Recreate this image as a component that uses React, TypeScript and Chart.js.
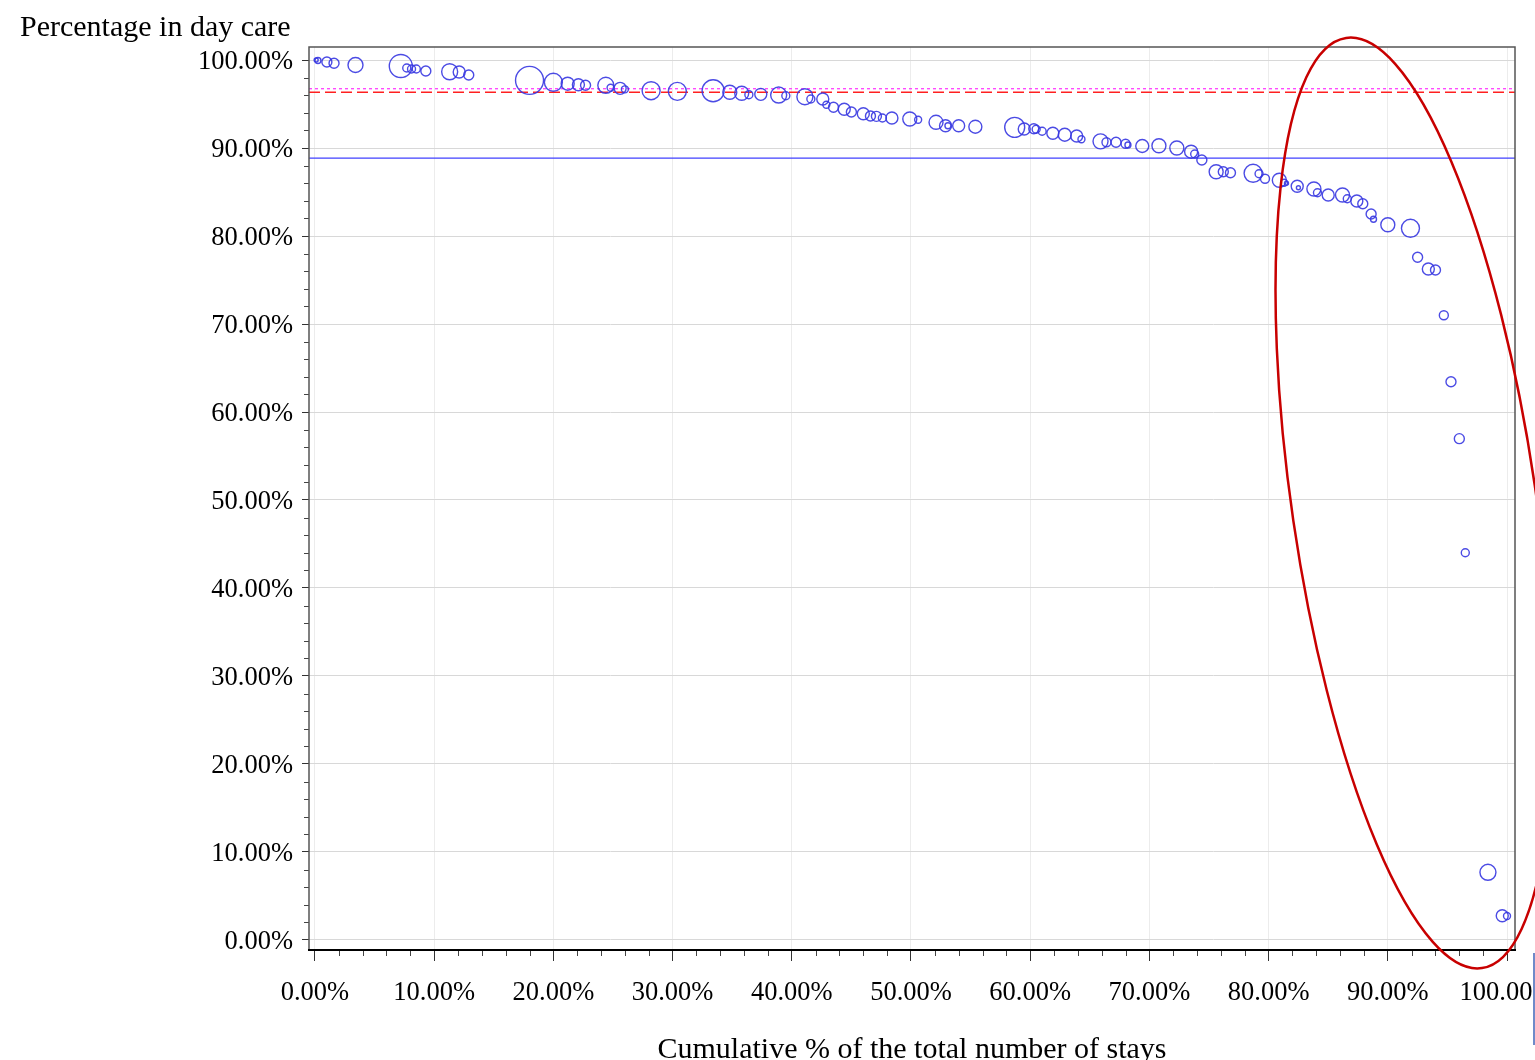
import React, { useEffect, useRef } from "react";
import { Chart, registerables } from "chart.js";

Chart.register(...registerables);

// Cumulative % of the total number of stays (x)
const cumulativeStays = [
  0.1, 0.25, 1.0, 1.6, 3.4, 7.2, 7.7, 8.1, 8.5, 9.3,
  11.3, 12.1, 12.9, 18.0, 20.0, 21.2, 22.1, 22.7, 24.4, 24.8,
  25.6, 26.0, 28.2, 30.4, 33.4, 34.8, 35.8, 36.4, 37.4, 38.9,
  39.5, 41.1, 41.6, 42.6, 42.9, 43.5, 44.4, 45.0, 46.0, 46.6,
  47.1, 47.6, 48.4, 49.9, 50.6, 52.1, 52.9, 53.1, 54.0, 55.4,
  58.7, 59.5, 60.3, 60.5, 61.0, 61.9, 62.9, 63.9, 64.3, 65.9,
  66.4, 67.2, 68.0, 68.2, 69.4, 70.8, 72.3, 73.5, 73.8, 74.4,
  75.6, 76.2, 76.8, 78.7, 79.2, 79.7, 80.9, 81.3, 81.5, 82.4,
  82.5, 83.8, 84.1, 85.0, 86.2, 86.6, 87.4, 87.9, 88.6, 88.8,
  90.0, 91.9, 92.5, 93.4, 94.0, 94.7, 95.3, 96.0, 96.5, 98.4,
  99.6, 100.0,
];

// Percentage in day care (y)
const dayCarePct = [
  100.0, 99.95, 99.77, 99.63, 99.43, 99.32, 99.09, 98.98, 98.98, 98.75,
  98.67, 98.64, 98.3, 97.69, 97.47, 97.31, 97.19, 97.13, 97.13, 96.85,
  96.78, 96.67, 96.51, 96.44, 96.51, 96.33, 96.22, 96.06, 96.1, 96.02,
  95.94, 95.83, 95.57, 95.57, 94.92, 94.63, 94.4, 94.09, 93.9, 93.64,
  93.6, 93.41, 93.41, 93.3, 93.22, 92.92, 92.53, 92.53, 92.53, 92.42,
  92.35, 92.16, 92.19, 92.13, 91.9, 91.67, 91.51, 91.36, 90.99, 90.76,
  90.65, 90.65, 90.49, 90.34, 90.23, 90.26, 90.0, 89.58, 89.32, 88.64,
  87.31, 87.31, 87.19, 87.13, 87.08, 86.51, 86.33, 86.06, 85.99, 85.65,
  85.49, 85.34, 84.92, 84.66, 84.66, 84.24, 83.98, 83.67, 82.5, 81.9,
  81.28, 80.88, 77.58, 76.25, 76.14, 70.99, 63.44, 56.97, 44.01, 7.69,
  2.76, 2.73,
];

// Bubble size (volume of stays)
const bubbleSize = [
  2, 3, 5, 5, 7.5, 11.5, 4, 4, 4, 5,
  8, 6, 5, 14, 9, 6.5, 6, 5, 8, 3.5,
  6, 3.5, 9, 9, 11, 7, 7, 4, 6, 8,
  4, 8, 4, 6, 3.5, 5, 6, 5, 6, 5,
  5, 4, 6, 7, 3.5, 7, 6, 3, 6, 6.5,
  10, 6, 5, 4, 4, 6, 6.5, 6, 3.5, 7.5,
  4.5, 5, 4.5, 3, 6.5, 7, 7, 6.5, 4, 5,
  7, 5, 5, 9, 4, 4.5, 7, 3.5, 2, 6,
  2, 7, 4, 6, 7, 4, 6, 5, 5, 3,
  7, 9, 5, 6, 5, 4.5, 5, 5, 4, 8,
  6, 3.5,
];

// Horizontal reference lines (percentage in day care)
const referenceNames = ["Upper reference", "Reference", "Overall average"];
const referenceValues = [96.74, 96.33, 88.86];

// Axis ticks and ranges
const xTickValues = [0, 10, 20, 30, 40, 50, 60, 70, 80, 90, 100];
const yTickValues = [0, 10, 20, 30, 40, 50, 60, 70, 80, 90, 100];
const xRange = [-0.5, 100.67];
const yRange = [-1.14, 101.48];

const yAxisTitle = "Percentage in day care";
const xAxisTitle = "Cumulative % of the total number of stays";

const FONT = '"Liberation Serif", "Times New Roman", serif';

const extrasPlugin = {
  id: "extras",
  afterDraw(chart: any) {
    const { ctx, chartArea: ca, scales } = chart;
    const xs = scales.x;
    const ys = scales.y;
    ctx.save();

    // minor ticks
    ctx.strokeStyle = "#444";
    ctx.lineWidth = 1;
    for (let v = 0; v <= 100; v += 2) {
      if (v % 10 === 0) continue;
      const py = Math.round(ys.getPixelForValue(v)) + 0.5;
      ctx.beginPath();
      ctx.moveTo(ca.left - 5, py);
      ctx.lineTo(ca.left, py);
      ctx.stroke();
      const px = Math.round(xs.getPixelForValue(v)) + 0.5;
      ctx.beginPath();
      ctx.moveTo(px, ca.bottom);
      ctx.lineTo(px, ca.bottom + 6);
      ctx.stroke();
    }

    // frame
    ctx.strokeStyle = "#555";
    ctx.lineWidth = 1.5;
    ctx.beginPath();
    ctx.moveTo(ca.left, ca.bottom);
    ctx.lineTo(ca.left, ca.top);
    ctx.lineTo(ca.right, ca.top);
    ctx.lineTo(ca.right, ca.bottom);
    ctx.stroke();
    ctx.strokeStyle = "#000";
    ctx.lineWidth = 2;
    ctx.beginPath();
    ctx.moveTo(ca.left - 1, ca.bottom);
    ctx.lineTo(ca.right + 1, ca.bottom);
    ctx.stroke();

    // axis titles
    ctx.fillStyle = "#000";
    ctx.font = `30px ${FONT}`;
    ctx.textAlign = "left";
    ctx.textBaseline = "alphabetic";
    ctx.fillText(yAxisTitle, 20, 36);
    ctx.textAlign = "center";
    ctx.fillText(xAxisTitle, 912, 1058);

    // highlight ellipse around the tail of the distribution
    const cx = xs.getPixelForValue(92.2);
    const cy = ys.getPixelForValue(49.66);
    ctx.strokeStyle = "#c80000";
    ctx.lineWidth = 2.5;
    ctx.beginPath();
    ctx.ellipse(cx, cy, 122, 470, -0.145, 0, Math.PI * 2);
    ctx.stroke();

    // selection marker at bottom right
    ctx.fillStyle = "#6f8ac9";
    ctx.fillRect(1533, 953, 2, 92);

    ctx.restore();
  },
};

export default function App() {
  const canvasRef = useRef<HTMLCanvasElement | null>(null);

  useEffect(() => {
    if (!canvasRef.current) return;
    const bubbles = cumulativeStays.map((x, i) => ({
      x,
      y: dayCarePct[i],
      r: bubbleSize[i],
    }));
    const refStyles = [
      { color: "#ff40ff", dash: [3, 3], width: 1.3 },
      { color: "#ff2020", dash: [11, 5], width: 1.5 },
      { color: "#4040ff", dash: [], width: 1.3 },
    ];
    const refDatasets = referenceValues.map((v, i) => ({
      type: "line" as const,
      label: referenceNames[i],
      data: [
        { x: xRange[0], y: v },
        { x: xRange[1], y: v },
      ],
      borderColor: refStyles[i].color,
      borderDash: refStyles[i].dash,
      borderWidth: refStyles[i].width,
      pointRadius: 0,
      fill: false,
      order: 2,
    }));

    const chart = new Chart(canvasRef.current, {
      type: "bubble",
      data: {
        datasets: [
          {
            type: "bubble",
            label: "Stays",
            data: bubbles,
            backgroundColor: "rgba(0,0,0,0)",
            borderColor: "rgba(55,55,225,0.9)",
            borderWidth: 1.4,
            order: 1,
          } as any,
          ...refDatasets,
        ],
      },
      options: {
        animation: false,
        responsive: false,
        devicePixelRatio: 1,
        layout: { padding: { top: 47, right: 20, left: 0, bottom: 0 } },
        plugins: {
          legend: { display: false },
          tooltip: { enabled: false },
          title: { display: false },
        },
        scales: {
          x: {
            type: "linear",
            min: xRange[0],
            max: xRange[1],
            afterBuildTicks: (scale: any) => {
              scale.ticks = xTickValues.map((v) => ({ value: v }));
            },
            afterFit: (scale: any) => {
              scale.height = 110;
              scale.paddingLeft = 0;
              scale.paddingRight = 0;
            },
            grid: {
              color: "#ececec",
              lineWidth: 1,
              tickColor: "#333",
              tickLength: 11,
              drawTicks: true,
            },
            border: { display: false },
            ticks: {
              autoSkip: false,
              maxRotation: 0,
              minRotation: 0,
              padding: 16,
              color: "#000",
              font: { family: FONT, size: 26.5 },
              callback: (v: any) => Number(v).toFixed(2) + "%",
            },
          },
          y: {
            type: "linear",
            min: yRange[0],
            max: yRange[1],
            afterBuildTicks: (scale: any) => {
              scale.ticks = yTickValues.map((v) => ({ value: v }));
            },
            afterFit: (scale: any) => {
              scale.width = 309;
              scale.paddingTop = 0;
              scale.paddingBottom = 0;
            },
            grid: {
              color: "#d8d8d8",
              lineWidth: 1,
              tickColor: "#333",
              tickLength: 7,
              drawTicks: true,
            },
            border: { display: false },
            ticks: {
              autoSkip: false,
              padding: 9,
              labelOffset: 2,
              color: "#000",
              font: { family: FONT, size: 26.5 },
              callback: (v: any) => Number(v).toFixed(2) + "%",
            },
          },
        },
      } as any,
      plugins: [extrasPlugin],
    });
    return () => chart.destroy();
  }, []);

  return (
    <div
      style={{
        position: "absolute",
        left: 0,
        top: 0,
        width: 1535,
        height: 1060,
        background: "#fff",
        overflow: "hidden",
      }}
    >
      <canvas
        ref={canvasRef}
        width={1535}
        height={1060}
        style={{ display: "block", width: 1535, height: 1060 }}
      />
    </div>
  );
}
